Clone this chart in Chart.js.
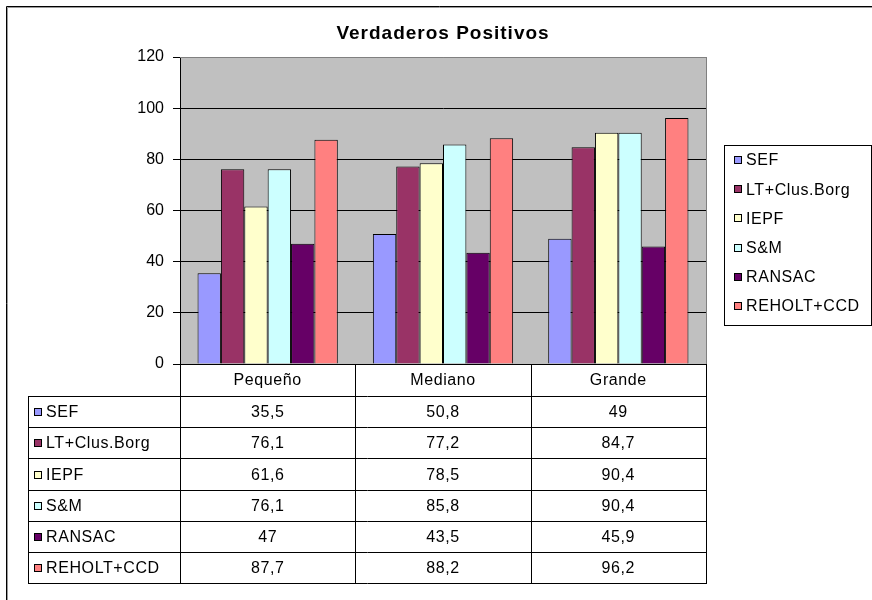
<!DOCTYPE html>
<html>
<head>
<meta charset="utf-8">
<script src="https://cdn.jsdelivr.net/npm/chart.js@4.4.1/dist/chart.umd.min.js"></script>
<style>
  html, body { margin: 0; padding: 0; background: #fff; }
  #wrap { width: 872px; height: 600px; }
</style>
</head>
<body>
<div id="wrap"><canvas id="chart" width="872" height="600"></canvas></div>
<script>
const chartTitle = 'Verdaderos Positivos';
const sizes = ['Pequeño', 'Mediano', 'Grande'];
const methods = ['SEF', 'LT+Clus.Borg', 'IEPF', 'S&M', 'RANSAC', 'REHOLT+CCD'];
const sef = [35.5, 50.8, 49];
const ltClusBorg = [76.1, 77.2, 84.7];
const iepf = [61.6, 78.5, 90.4];
const sm = [76.1, 85.8, 90.4];
const ransac = [47, 43.5, 45.9];
const reholtCcd = [87.7, 88.2, 96.2];
const yTicks = [0, 20, 40, 60, 80, 100, 120];

const series = [sef, ltClusBorg, iepf, sm, ransac, reholtCcd];
const colors = ['#9999FF', '#993366', '#FFFFCC', '#CCFFFF', '#660066', '#FF8080'];
const FONT = '"Liberation Sans", Arial, sans-serif';

// decimal comma, as in the sheet
const fmt = v => String(v).replace('.', ',');

const sheetPlugin = {
  id: 'sheet',
  beforeDraw(chart) {
    const { ctx, chartArea: a } = chart;
    ctx.save();
    ctx.fillStyle = '#fff';
    ctx.fillRect(0, 0, chart.width, chart.height);
    ctx.fillStyle = '#C0C0C0';
    ctx.fillRect(a.left, a.top, a.right - a.left, a.bottom - a.top);
    ctx.restore();
  },
  beforeDatasetsDraw(chart) {
    const { ctx, chartArea: a } = chart;
    ctx.save();
    ctx.strokeStyle = '#808080';
    ctx.lineWidth = 1;
    ctx.beginPath();
    ctx.moveTo(a.left, a.top + 0.5);
    ctx.lineTo(a.right + 1, a.top + 0.5);
    ctx.moveTo(a.right + 0.5, a.top);
    ctx.lineTo(a.right + 0.5, a.bottom);
    ctx.stroke();
    ctx.restore();
  },
  afterDraw(chart) {
    const { ctx, chartArea: a } = chart;
    const x = chart.scales.x;
    const sets = chart.data.datasets;
    ctx.save();

    // outer frame (top and left edges)
    ctx.lineWidth = 1;
    ctx.strokeStyle = '#000';
    ctx.beginPath();
    ctx.moveTo(6.5, chart.height);
    ctx.lineTo(6.5, 6.5);
    ctx.lineTo(chart.width, 6.5);
    ctx.stroke();
    ctx.strokeStyle = '#9a9a9a';
    ctx.beginPath();
    ctx.moveTo(7.5, chart.height);
    ctx.lineTo(7.5, 7.5);
    ctx.lineTo(chart.width, 7.5);
    ctx.stroke();

    // title
    ctx.fillStyle = '#000';
    ctx.font = 'bold 19px ' + FONT;
    ctx.letterSpacing = '1px';
    ctx.textAlign = 'center';
    ctx.textBaseline = 'middle';
    ctx.fillText(chartTitle, 443, 34);

    ctx.font = '16px ' + FONT;
    ctx.letterSpacing = '0.6px';

    // legend box
    const lg = { left: 724, top: 145, right: 871, bottom: 325 };
    ctx.fillStyle = '#fff';
    ctx.fillRect(lg.left, lg.top, lg.right - lg.left, lg.bottom - lg.top);
    ctx.strokeStyle = '#000';
    ctx.strokeRect(lg.left + 0.5, lg.top + 0.5, lg.right - lg.left, lg.bottom - lg.top);
    ctx.textAlign = 'left';
    sets.forEach((ds, i) => {
      const cy = lg.top + 15 + i * 29.2;
      ctx.fillStyle = ds.backgroundColor;
      ctx.fillRect(734, Math.round(cy) - 4, 8, 8);
      ctx.strokeStyle = '#000';
      ctx.strokeRect(734.5, Math.round(cy) - 3.5, 7, 7);
      ctx.fillStyle = '#000';
      ctx.fillText(ds.label, 746, cy + 1);
    });

    // data table under the plot
    const half = (x.getPixelForValue(1) - x.getPixelForValue(0)) / 2;
    const cols = [a.left, ...sizes.map((_, i) => x.getPixelForValue(i) + half)];
    const tableLeft = 28;
    const top = a.bottom;
    const headH = 32;
    const rowH = 31.2;
    const rowY = k => Math.round(top + headH + k * rowH) + 0.5;
    const bottom = rowY(sets.length);

    ctx.strokeStyle = '#000';
    ctx.lineWidth = 1;
    ctx.beginPath();
    cols.forEach(cx => {
      const px = Math.round(cx) + 0.5;
      ctx.moveTo(px, top);
      ctx.lineTo(px, bottom);
    });
    ctx.moveTo(tableLeft + 0.5, rowY(0));
    ctx.lineTo(tableLeft + 0.5, bottom);
    for (let k = 0; k <= sets.length; k++) {
      ctx.moveTo(tableLeft, rowY(k));
      ctx.lineTo(Math.round(a.right) + 1, rowY(k));
    }
    ctx.stroke();

    ctx.fillStyle = '#000';
    ctx.textAlign = 'center';
    sizes.forEach((s, i) => {
      ctx.fillText(s, x.getPixelForValue(i), top + headH / 2 + 1);
    });

    sets.forEach((ds, j) => {
      const cy = (rowY(j) + rowY(j + 1)) / 2;
      ctx.fillStyle = ds.backgroundColor;
      ctx.fillRect(34, Math.round(cy) - 4, 8, 8);
      ctx.strokeStyle = '#000';
      ctx.strokeRect(34.5, Math.round(cy) - 3.5, 7, 7);
      ctx.fillStyle = '#000';
      ctx.textAlign = 'left';
      ctx.fillText(ds.label, 46, cy + 1);
      ctx.textAlign = 'center';
      ds.data.forEach((v, i) => {
        ctx.fillText(fmt(v), x.getPixelForValue(i), cy + 1);
      });
    });

    ctx.restore();
  }
};

new Chart(document.getElementById('chart'), {
  type: 'bar',
  data: {
    labels: sizes,
    datasets: methods.map((name, i) => ({
      label: name,
      data: series[i],
      backgroundColor: colors[i],
      borderColor: '#000',
      borderWidth: 1
    }))
  },
  options: {
    responsive: false,
    animation: false,
    layout: { padding: { left: 0, top: 57, right: 166, bottom: 236 } },
    datasets: { bar: { categoryPercentage: 0.8, barPercentage: 1 } },
    plugins: {
      legend: { display: false },
      title: { display: false },
      tooltip: { enabled: false }
    },
    scales: {
      x: {
        ticks: { display: false },
        grid: { display: false },
        border: { display: true, color: '#000', width: 1 },
        afterFit: s => { s.height = 0; }
      },
      y: {
        min: 0,
        max: 120,
        afterFit: s => { s.width = 180; },
        afterBuildTicks: s => { s.ticks = yTicks.map(v => ({ value: v })); },
        ticks: { color: '#000', font: { family: FONT, size: 16 }, padding: 9 },
        grid: {
          color: c => (c.tick && c.tick.value === 120 ? '#808080' : '#000'),
          tickColor: '#000',
          tickLength: 7,
          lineWidth: 1
        },
        border: { display: true, color: '#000', width: 1 }
      }
    }
  },
  plugins: [sheetPlugin]
});
</script>
</body>
</html>
